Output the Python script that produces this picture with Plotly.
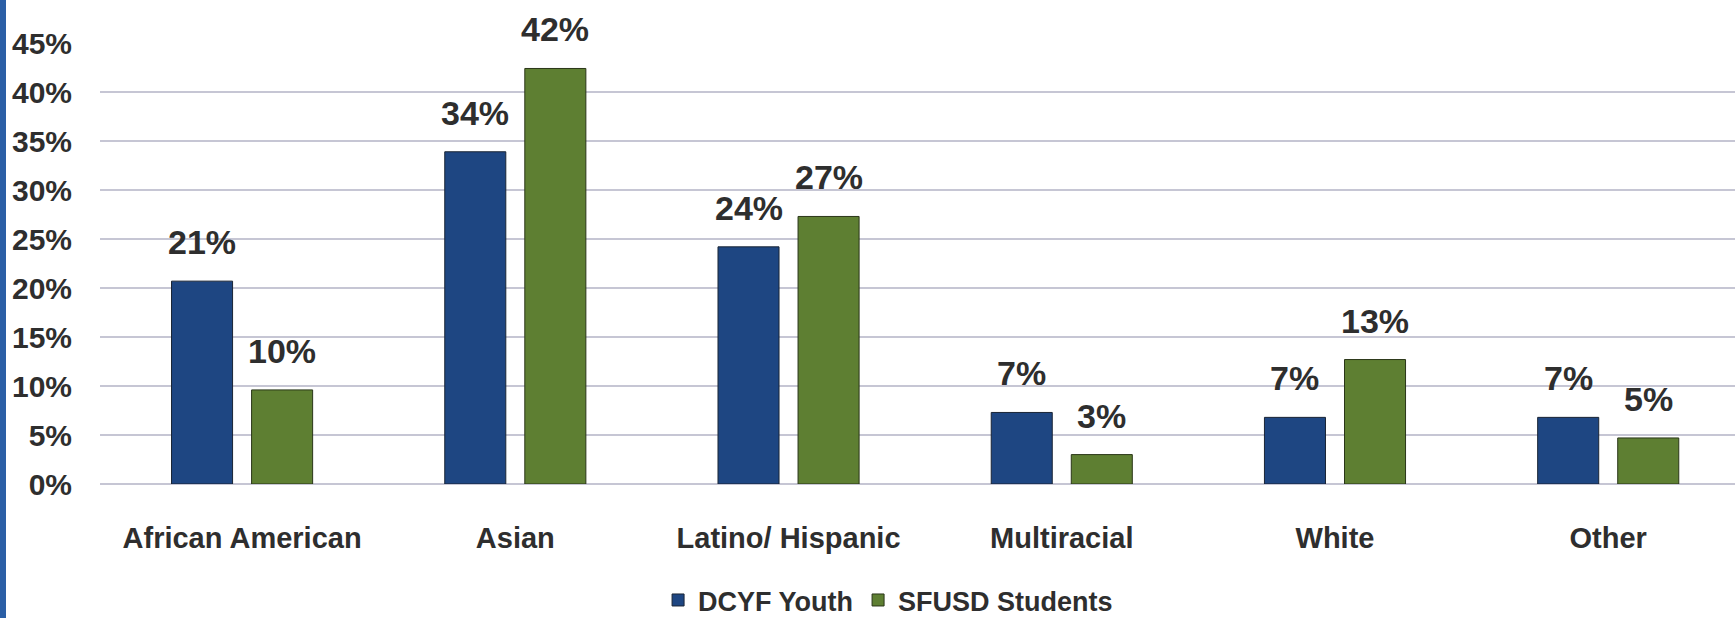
import plotly.graph_objects as go

categories = ["African American", "Asian", "Latino/ Hispanic", "Multiracial", "White", "Other"]
dcyf_values = [20.7, 33.9, 24.2, 7.3, 6.8, 6.8]
sfusd_values = [9.6, 42.4, 27.3, 3.0, 12.7, 4.7]
dcyf_labels = ["21%", "34%", "24%", "7%", "7%", "7%"]
sfusd_labels = ["10%", "42%", "27%", "3%", "13%", "5%"]
y_ticks = [0, 5, 10, 15, 20, 25, 30, 35, 40, 45]
y_tick_labels = [f"{t}%" for t in y_ticks]

BLUE = "#1e4682"
GREEN = "#5e7f32"
TXT = "#2e2e2e"
FONT = "Liberation Sans, Arial, sans-serif"

fig = go.Figure()
fig.add_trace(go.Bar(name="DCYF Youth", x=categories, y=dcyf_values,
                     marker=dict(color=BLUE, line=dict(color="#1a2535", width=1))))
fig.add_trace(go.Bar(name="SFUSD Students", x=categories, y=sfusd_values,
                     marker=dict(color=GREEN, line=dict(color="#2a3618", width=1))))

for i, c in enumerate(categories):
    fig.add_annotation(x=c, y=dcyf_values[i], text=dcyf_labels[i], showarrow=False,
                       xshift=-40, yshift=18, yanchor="bottom",
                       font=dict(family=FONT, size=34, color=TXT, weight="bold"))
    fig.add_annotation(x=c, y=sfusd_values[i], text=sfusd_labels[i], showarrow=False,
                       xshift=40, yshift=18, yanchor="bottom",
                       font=dict(family=FONT, size=34, color=TXT, weight="bold"))

# left blue border strip of the scanned page
fig.add_shape(type="rect", xref="paper", yref="paper",
              x0=-100 / 1635, x1=-94 / 1635, y0=-134 / 441, y1=484 / 441,
              fillcolor="#2b5fa6", line=dict(width=0), layer="above")

fig.update_layout(
    width=1735, height=618,
    margin=dict(l=100, r=0, t=43, b=134, autoexpand=False),
    paper_bgcolor="white", plot_bgcolor="white",
    barmode="group", bargap=0.414, bargroupgap=0.2375,
    font=dict(family=FONT, color=TXT),
    legend=dict(orientation="h", x=0.482, xanchor="center", y=-0.264, yanchor="middle",
                font=dict(family=FONT, size=27, color=TXT, weight="bold"),
                itemwidth=30, tracegroupgap=0, bgcolor="rgba(0,0,0,0)"),
    showlegend=True,
)
fig.update_xaxes(range=[-0.52, 5.464], showgrid=False, showline=False, zeroline=False,
                 automargin=False,
                 tickfont=dict(family=FONT, size=29, color=TXT, weight="bold"),
                 ticks="", ticklabelstandoff=34)
fig.update_yaxes(range=[0, 45], tickvals=y_ticks, ticktext=y_tick_labels,
                 showgrid=True, gridcolor="#c6c6d4", gridwidth=1.5,
                 zeroline=True, zerolinecolor="#c6c6d4", zerolinewidth=1.5,
                 showline=False, ticks="", ticklabelstandoff=27, automargin=False,
                 tickfont=dict(family=FONT, size=30, color=TXT, weight="bold"))

fig.write_html("out.html", config={"displayModeBar": False},
               post_script="document.body.style.margin='0';document.body.style.overflow='hidden';")
